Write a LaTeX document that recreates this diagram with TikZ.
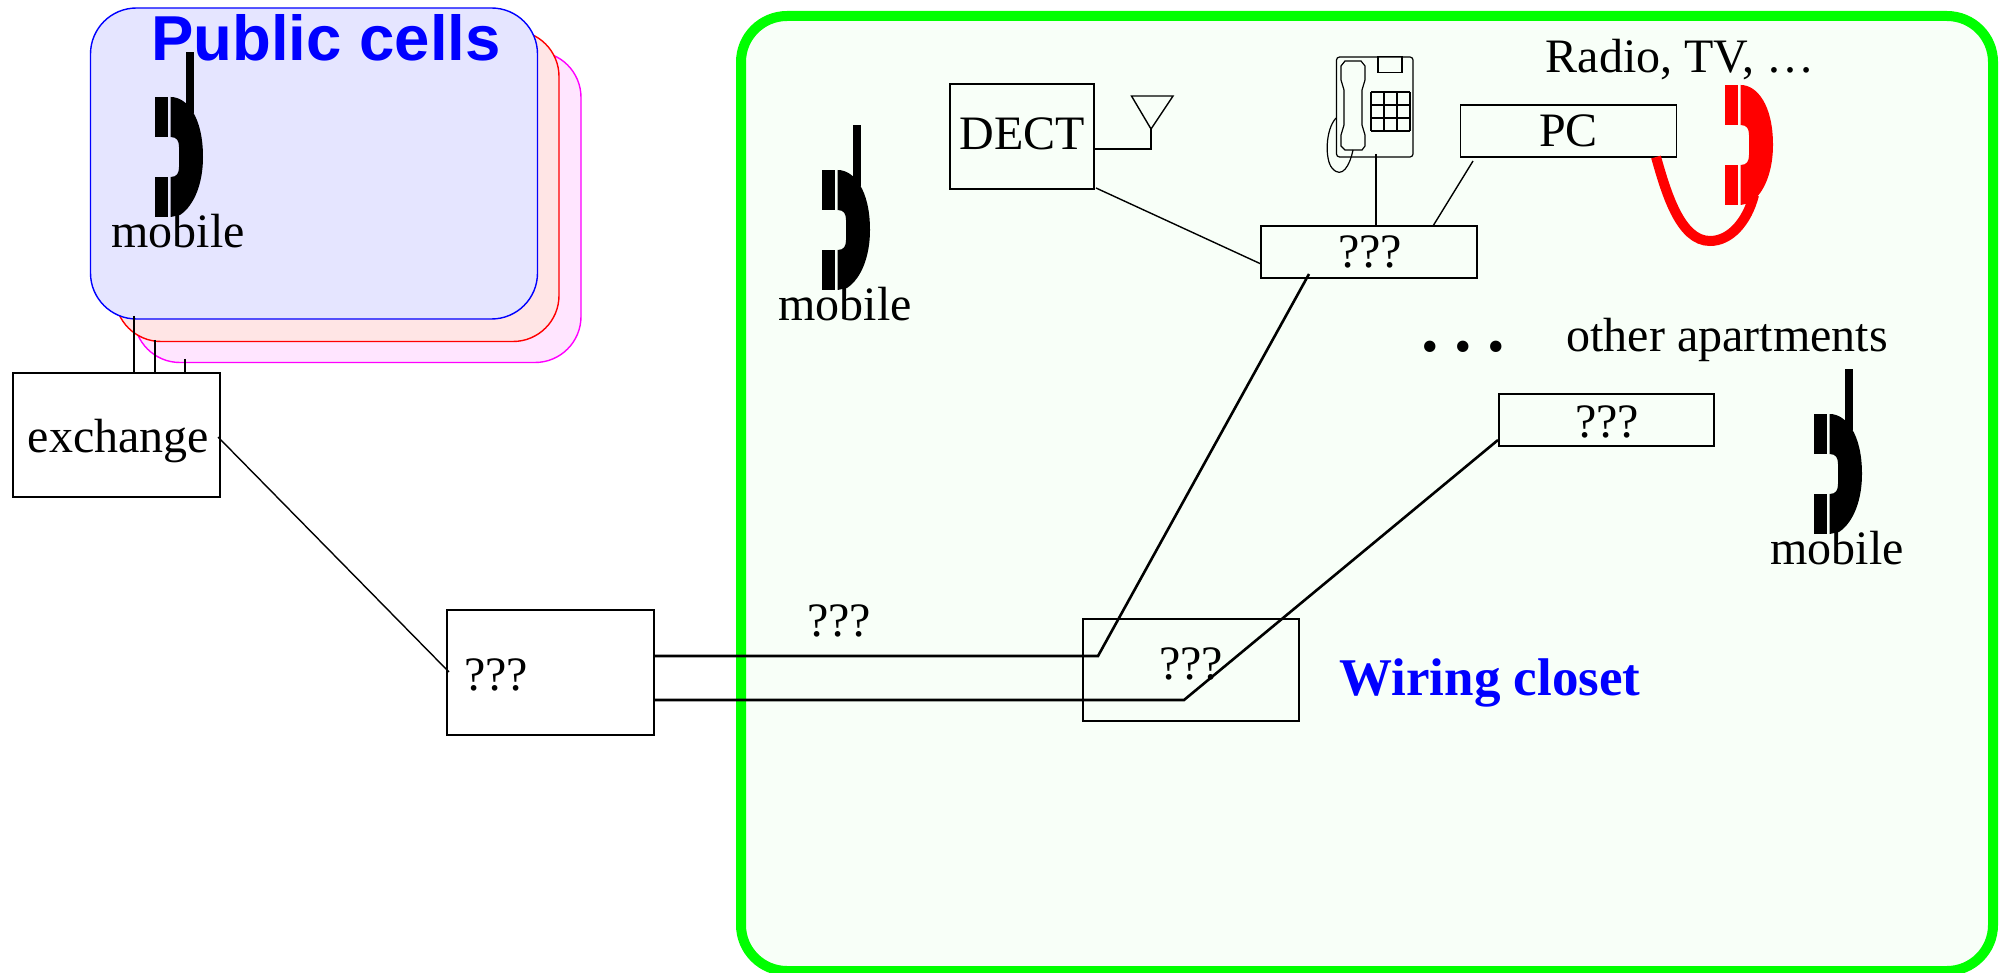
\documentclass[tikz,border=0pt]{standalone}
\usepackage{fontspec}
\setmainfont{Liberation Serif}
\newfontfamily\arialbold[BoldFont={Liberation Sans Bold}]{Liberation Sans}
\definecolor{cellblue}{HTML}{E5E5FF}
\definecolor{cellred}{HTML}{FFE5E5}
\definecolor{cellmag}{HTML}{FFE5FF}
\definecolor{homegreen}{HTML}{F8FFF8}
\definecolor{puremag}{RGB}{255,0,255}
\definecolor{purered}{RGB}{255,0,0}
\definecolor{pureblue}{RGB}{0,0,255}
\definecolor{puregreen}{RGB}{0,255,0}
\tikzset{
  boxn/.style={draw=black,line width=1.4pt,rectangle,inner sep=0pt,font=\fontsize{48}{48}\selectfont},
  txt/.style={inner sep=0pt,anchor=base,font=\fontsize{48}{48}\selectfont},
  thin conn/.style={line width=1.4pt,draw=black},
  thick conn/.style={line width=2.6pt,draw=black},
  cell/.style={rectangle,rounded corners=46pt,line width=1.4pt,inner sep=0pt},
  pics/handset/.style={code={
    \fill[#1] (0,0) rectangle (13,40);
    \fill[#1] (0,80) rectangle (13,120);
    \fill[#1] (15.7,0) .. controls (32,0) and (48,20) .. (48,60)
      .. controls (48,85) and (40,108) .. (25,118) -- (15.7,120) -- (15.7,80)
      .. controls (22,80) and (24,76) .. (24,70) -- (24,50)
      .. controls (24,44) and (22,40) .. (15.7,40) -- cycle;
  }},
  pics/mobile/.style={code={
    \pic at (0,0) {handset=black};
    \fill[black] (31,-45) rectangle (39,16);
  }}
}
\begin{document}
\begin{tikzpicture}[x=1pt,y=-1pt]
\useasboundingbox (0,0) rectangle (2002,973);
% public cells
\node[cell,draw=puremag,fill=cellmag,minimum width=447pt,minimum height=311pt] (cellC) at (357.5,207) {};
\node[cell,draw=purered,fill=cellred,minimum width=444pt,minimum height=311pt] (cellB) at (337,186) {};
\node[cell,draw=pureblue,fill=cellblue,minimum width=447pt,minimum height=311pt] (cellA) at (314,163.5) {};
\node[txt,text=pureblue,font=\fontsize{63.5}{64}\selectfont\arialbold\bfseries] (pubcells) at (326,61) {Public cells};
\pic at (155,97) {mobile};
\node[txt] (mob1) at (178,248) {mobile};
% home
\node[rectangle,rounded corners=46pt,draw=puregreen,fill=homegreen,line width=10pt,inner sep=0pt,minimum width=1252pt,minimum height=955pt] (home) at (1367,493.5) {};
% boxes
\node[boxn,minimum width=207pt,minimum height=124pt] (exch) at (116.5,435) {};
\node[txt] (exchtxt) at (118.5,452) {exchange};
\node[boxn,minimum width=207pt,minimum height=125pt] (isp) at (550.5,672.5) {};
\node[txt] (isptxt) at (496,690) {???};
\node[boxn,minimum width=144pt,minimum height=105pt] (dect) at (1022,136.5) {};
\node[txt] (decttxt) at (1022,150) {DECT};
\node[boxn,minimum width=216pt,minimum height=52pt] (pc) at (1568.5,131) {PC};
\node[boxn,minimum width=216pt,minimum height=52pt] (hub) at (1369,252) {};
\node[txt] (hubtxt) at (1370,268) {???};
\node[boxn,minimum width=215pt,minimum height=52pt] (hubb) at (1606.5,420) {};
\node[txt] (hubbtxt) at (1607,437) {???};
\node[boxn,minimum width=216pt,minimum height=102pt] (closet) at (1191,670) {};
\node[txt] (closettxt) at (1191,679) {???};
\node[txt] (wiretxt) at (839,636) {???};
\node[txt,text=pureblue,font=\fontsize{53}{53}\selectfont\bfseries] (wiring) at (1490,695) {Wiring closet};
\node[txt] (radio) at (1680,73) {Radio, TV, \ldots};
\node[txt] (otherap) at (1727,352) {other apartments};
\node[txt,font=\fontsize{70}{70}\selectfont\bfseries] (dots) at (1463,352) {.\kern15.5pt.\kern15.5pt.};
% mobiles
\pic at (822,170) {mobile};
\node[txt] (mob2) at (845,321) {mobile};
\pic at (1814,414) {mobile};
\node[txt] (mob3) at (1837,564) {mobile};
% red phone
\pic at (1725,85) {handset=purered};
\coordinate (redA) at (1656,157);
\coordinate (redB) at (1754,195);
\draw[purered,line width=10pt] (redA) .. controls (1666,192) and (1680,241) .. (1710,241)
  .. controls (1730,241) and (1747,222) .. (redB);
% exchange links
\coordinate (upA) at (134,316);
\coordinate (upB) at (155,340);
\coordinate (upC) at (185,359);
\draw[thin conn] (upA) -- (upA |- exch.north);
\draw[thin conn] (upB) -- (upB |- exch.north);
\draw[thin conn] (upC) -- (upC |- exch.north);
\coordinate (exchR) at (218,437);
\coordinate (ispL) at (449,672);
\draw[thin conn] (exchR) -- (ispL);
% thick lines
\coordinate (lineAs) at (654,656);
\coordinate (lineAk) at (1098,656);
\coordinate (lineAe) at (1309,274);
\coordinate (lineBs) at (654,700);
\coordinate (lineBk) at (1184,700);
\coordinate (lineBe) at (1498,440);
\draw[thick conn] (lineAs) -- (lineAk) -- (lineAe);
\draw[thick conn] (lineBs) -- (lineBk) -- (lineBe);
% antenna
\coordinate (ant) at (1151,129);
\coordinate (antL) at (1131.5,96);
\coordinate (antR) at (1173,96);
\coordinate (dectR) at (1093,149);
\draw[thin conn] (antL) -- (antR) -- (ant) -- cycle;
\draw[thin conn] (dectR) -- (ant |- dectR) -- (ant);
\coordinate (dectC) at (1096,188);
\coordinate (hubL) at (1261,264);
\draw[thin conn] (dectC) -- (hubL);
% desk phone
\draw[line width=1.2pt,rounded corners=3pt] (1336.5,57) rectangle (1413,157);
\node[draw=black,line width=1.2pt,inner sep=0pt,minimum width=24pt,minimum height=15.5pt] (deskdisp) at (1390,64.5) {};
\foreach \xx in {0,13,26,39} {\draw[line width=1.2pt] (1371+\xx,92) -- (1371+\xx,131);}
\foreach \yy in {0,13,26,39} {\draw[line width=1.2pt] (1371,92+\yy) -- (1410,92+\yy);}
\draw[line width=1.2pt] (1345,61) -- (1361,61) -- (1365,66) -- (1365,80) -- (1362,90) -- (1362,125) -- (1365,135) -- (1365,146) -- (1362,150) -- (1345,150) -- (1341,146) -- (1341,135) -- (1344,125) -- (1344,90) -- (1341,80) -- (1341,66) -- cycle;
\draw[line width=1.2pt] (1336,118) .. controls (1325,130) and (1325,160) .. (1332,168) .. controls (1342,180) and (1350,165) .. (1353,150);
\coordinate (deskB) at (1376,154);
\draw[thin conn] (deskB) -- (deskB |- hub.north);
\coordinate (pcL) at (1473,161);
\coordinate (hubT) at (1433,226);
\draw[thin conn] (pcL) -- (hubT);
\end{tikzpicture}
\end{document}
